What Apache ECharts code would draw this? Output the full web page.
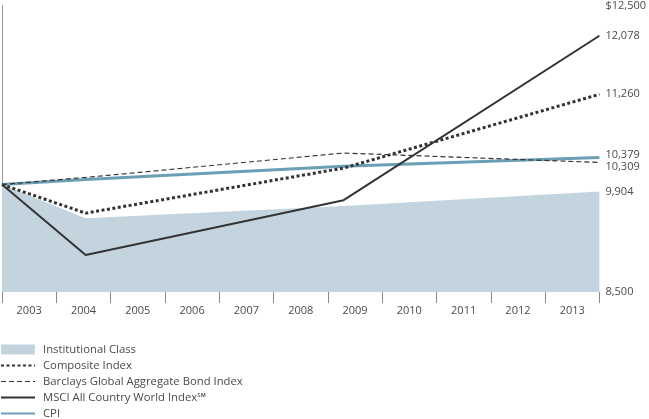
<!DOCTYPE html>
<html>
<head>
<meta charset="utf-8">
<script src="https://cdn.jsdelivr.net/npm/echarts@6/dist/echarts.min.js"></script>
<style>
html,body{margin:0;padding:0;background:#fff;}
#chart{width:649px;height:419px;}
</style>
</head>
<body>
<div id="chart"></div>
<script>
// ---- data ----
var years = ['2003','2004','2005','2006','2007','2008','2009','2010','2011','2012','2013'];
var pointTimes = [0, 1.54, 6.29, 11];           // years elapsed since start of 2003
var institutional = [10000, 9531, 9700, 9904];
var composite = [10000, 9601, 10230, 11260];
var barclays = [10000, 10100, 10440, 10309];
var msci = [10000, 9016, 9782, 12078];
var cpi = [10000, 10070, 10256, 10379];
var yTickValues = [8500, 9904, 10309, 10379, 11260, 12078, 12500];
var seriesNames = ['Institutional Class', 'Composite Index', 'Barclays Global Aggregate Bond Index', 'MSCI All Country World Index\u2120', 'CPI'];

function pairs(vals){ return vals.map(function(v,i){ return [pointTimes[i], v]; }); }

var font = 'Open Sans';
var chart = echarts.init(document.getElementById('chart'));
chart.setOption({
  animation: false,
  textStyle: {fontFamily: font},
  grid: {left: 2, right: 47, top: 5, bottom: 127, containLabel: false},
  legend: {
    orient: 'vertical', left: 0, top: 344, padding: 0, height: 120,
    itemWidth: 34, itemHeight: 10, itemGap: 5,
    itemStyle: {opacity: 0},
    textStyle: {fontFamily: font, fontSize: 11.3, color: '#4a4a4a', padding: [0,0,0,3]},
    data: [
      {name: seriesNames[0], icon: 'rect', itemStyle: {opacity: 1, color: '#c4d4df'}},
      {name: seriesNames[1]},
      {name: seriesNames[2], lineStyle: {width: 1}},
      {name: seriesNames[3]},
      {name: seriesNames[4]}
    ]
  },
  xAxis: [
    {
      type: 'category', data: years, boundaryGap: true, position: 'bottom',
      axisLine: {show: false},
      axisTick: {show: true, interval: 0, length: 11, lineStyle: {color: '#888', width: 1}},
      axisLabel: {interval: 0, fontFamily: font, fontSize: 11, color: '#4a4a4a', margin: 13},
      splitLine: {show: false}
    },
    {
      type: 'value', min: 0, max: 11, show: false
    }
  ],
  yAxis: {
    type: 'value', position: 'right', min: 8500, max: 12500,
    axisLine: {show: true, lineStyle: {color: '#999', width: 1}},
    axisTick: {show: false},
    splitLine: {show: false},
    axisLabel: {
      customValues: yTickValues,
      margin: 6, fontFamily: font, fontSize: 11, color: '#4a4a4a',
      formatter: function(v){
        var s = v.toLocaleString('en-US');
        if (v === 12500) return '$' + s;
        if (v === 10379) return '{up|' + s + '}';
        if (v === 10309) return '{dn|' + s + '}';
        return s;
      },
      rich: {
        up: {fontFamily: font, fontSize: 11, color: '#4a4a4a', padding: [0,0,5,0]},
        dn: {fontFamily: font, fontSize: 11, color: '#4a4a4a', padding: [9,0,0,0]}
      }
    }
  },
  series: [
    {
      name: seriesNames[0], type: 'line', xAxisIndex: 1, data: pairs(institutional),
      symbol: 'none', color: '#c4d4df',
      lineStyle: {width: 0, color: '#c4d4df'},
      areaStyle: {color: '#c4d4df', opacity: 1, origin: 'start'},
      z: 1
    },
    {
      name: seriesNames[4], type: 'line', xAxisIndex: 1, data: pairs(cpi),
      symbol: 'none', color: '#6b9fb6',
      lineStyle: {width: 3, color: '#6b9fb6'}, z: 2
    },
    {
      name: seriesNames[2], type: 'line', xAxisIndex: 1, data: pairs(barclays),
      symbol: 'none', color: '#333',
      lineStyle: {width: 1.2, color: '#333', type: [5, 3]}, z: 3
    },
    {
      name: seriesNames[1], type: 'line', xAxisIndex: 1, data: pairs(composite),
      symbol: 'none', color: '#333',
      lineStyle: {width: 3, color: '#333', type: [3, 2.5]}, z: 4
    },
    {
      name: seriesNames[3], type: 'line', xAxisIndex: 1, data: pairs(msci),
      symbol: 'none', color: '#333',
      lineStyle: {width: 2, color: '#333'}, z: 5
    }
  ]
});
</script>
</body>
</html>
